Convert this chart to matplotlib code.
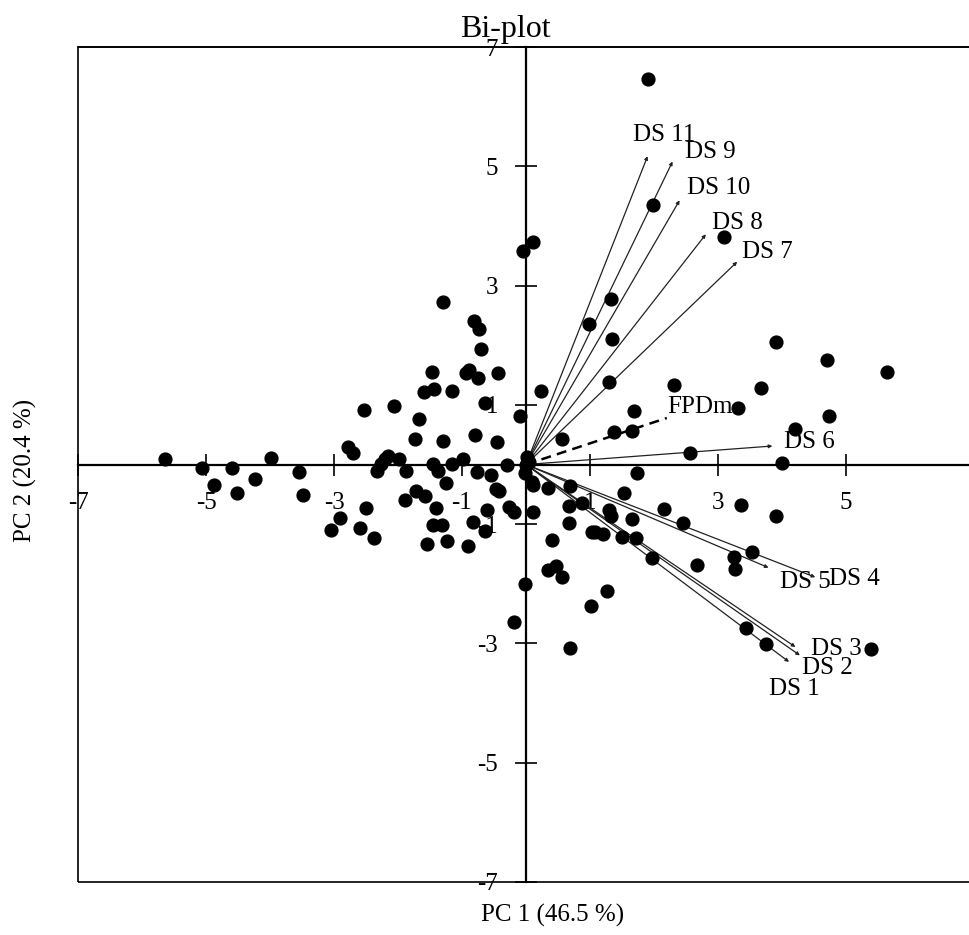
import numpy as np
import matplotlib
matplotlib.use('Agg')
import matplotlib.pyplot as plt
from matplotlib.patches import Rectangle

##------------data-----------------##

# PC scores of the genotypes
pc1 = [-1.30, -0.82, -0.73, -0.71, -1.47, -0.89, -0.93, -0.75, -0.44, -1.60,
       -1.44, -1.15, -2.53, -2.07, -0.64, -0.09, -1.67, -1.74, -1.30, -0.79,
       -0.46, -2.78, -2.71, -5.64, -3.98, -2.15, -2.21, -2.27, -2.33, -1.98,
       -0.99, -1.45, -1.16, -0.30,
       -5.07, -4.60, -4.87, -4.52, -4.23, -3.54, -3.49, -1.88, -1.37, -0.77,
       -0.55, -0.02, -1.25, -0.47, -0.42, -1.89, -1.72, -1.58, -1.41, -2.50,
       -2.90, -3.04, -2.60, -2.37, -1.45, -1.31, -1.54, -1.23, -0.90, -0.83,
       -0.61, -0.64, -0.27, -0.19, -0.01, -0.19,
       0.10, 0.11, 0.35, 0.69, 1.74, 1.53, 0.87, 0.67, 0.11, 1.30,
       1.33, 1.66, 2.16, 2.45, 3.36, 3.90, 0.67, 1.03, 1.08, 1.21,
       1.50, 1.72, 0.40, 1.97, 2.67, 3.25, 3.27, 3.53, 0.35, 0.47,
       0.57, 1.26, 1.02, 0.68, 3.44, 3.75, 5.39, 4.00,
       1.90, 1.99, 3.10, -0.04, 0.11, 1.33, 0.99, 1.35, 3.90, 4.70,
       5.64, 3.67, 2.32, 1.30, 0.24, 3.31, 4.74, 1.68, 4.21, 1.38,
       1.66, 0.56, 2.56,
       0.02, 0.05, 0.00]
pc2 = [2.72, 2.41, 2.27, 1.93, 1.55, 1.59, 1.53, 1.45, 1.53, 1.21,
       1.27, 1.24, 0.91, 0.98, 1.03, 0.81, 0.76, 0.43, 0.40, 0.50,
       0.38, 0.29, 0.20, 0.10, 0.11, 0.15, 0.10, 0.01, -0.11, 0.10,
       0.10, 0.01, 0.01, 0.00,
       -0.06, -0.06, -0.34, -0.48, -0.25, -0.13, -0.51, -0.11, -0.11, -0.13,
       -0.17, -0.14, -0.31, -0.41, -0.45, -0.60, -0.45, -0.53, -0.73, -0.73,
       -0.89, -1.09, -1.07, -1.24, -1.01, -1.01, -1.33, -1.28, -1.36, -0.96,
       -0.77, -1.12, -0.72, -0.80, -2.00, -2.64,
       -0.30, -0.35, -0.40, -0.36, -0.14, -0.48, -0.64, -0.70, -0.79, -0.77,
       -0.87, -0.91, -0.74, -0.98, -0.68, -0.87, -0.98, -1.13, -1.13, -1.16,
       -1.21, -1.24, -1.26, -1.57, -1.69, -1.55, -1.76, -1.47, -1.77, -1.71,
       -1.88, -2.12, -2.37, -3.08, -2.74, -3.01, -3.10, 0.02,
       6.46, 4.35, 3.82, 3.58, 3.73, 2.77, 2.36, 2.10, 2.05, 1.75,
       1.55, 1.29, 1.34, 1.39, 1.24, 0.95, 0.82, 0.89, 0.60, 0.54,
       0.57, 0.43, 0.19,
       0.12, 0.05, 0.00]

# trait loadings (scaled)
traits = ['DS 11', 'DS 9', 'DS 10', 'DS 8', 'DS 7', 'DS 6',
          'DS 5', 'DS 4', 'DS 3', 'DS 2', 'DS 1']
load1 = [1.90, 2.29, 2.40, 2.81, 3.30, 3.85, 3.79, 4.52, 4.21, 4.28, 4.11]
load2 = [5.17, 5.08, 4.43, 3.86, 3.40, 0.31, -1.73, -1.89, -3.06, -3.20, -3.31]

fpdm = (2.20, 0.78)

ticks = [-7, -5, -3, -1, 1, 3, 5, 7]

# label offsets from arrow tip, in pixels
lab_off = [(-15, 21), (12, 10), (7, 12), (6, 11), (5, 10), (12, 4),
           (11, -14), (14, -2), (16, -2), (2, -13), (-20, -27)]

##------------figure-----------------##

plt.rcParams['font.family'] = ['Liberation Serif', 'DejaVu Serif']
fs = 18

fig = plt.figure(figsize=(9.69, 9.35), dpi=100)
ax = fig.add_axes([78/969, 53/935, 896/969, 835/935])
ax.set_xlim(-7, 7)
ax.set_ylim(-7, 7)

# crossing axes through the origin
ax.spines['left'].set_position('zero')
ax.spines['bottom'].set_position('zero')
for s in ['left', 'bottom']:
    ax.spines[s].set_linewidth(1.6)
for s in ['top', 'right']:
    ax.spines[s].set_linewidth(1.2)
ax.add_patch(Rectangle((0, 0), 1, 1, transform=ax.transAxes, fill=False,
                       lw=1.2, ec='black', clip_on=False, zorder=5))

ax.set_xticks(ticks)
ax.set_yticks(ticks)
ax.set_xticklabels([str(t) for t in ticks])
ax.set_yticklabels([str(t) for t in ticks])
ax.tick_params(direction='inout', length=16, width=1.2, pad=12, labelsize=fs)

# trait vectors
for i in range(len(traits)):
    ax.annotate('', xy=(load1[i], load2[i]), xytext=(0, 0),
                arrowprops=dict(arrowstyle='-|>', lw=0.9, color='#222222',
                                mutation_scale=5, shrinkA=0, shrinkB=0),
                zorder=2)
    ax.annotate(traits[i], xy=(load1[i], load2[i]), xytext=lab_off[i],
                textcoords='offset pixels', fontsize=fs, va='center', ha='left')

ax.plot([0, fpdm[0]], [0, fpdm[1]], color='black', lw=1.8, ls=(0, (4, 2.5)), zorder=2)
ax.annotate('FPDm', xy=fpdm, xytext=(0, 11), textcoords='offset pixels',
            fontsize=fs, va='center', ha='left')

# genotype scores
ax.scatter(pc1, pc2, s=85, color='black', zorder=3, clip_on=False)

fig.text(505/969, 1 - 30/935, 'Bi-plot', fontsize=23, ha='center', va='center')
fig.text(553/969, 20/935, 'PC 1 (46.5 %)', fontsize=fs, ha='center', va='center')
fig.text(25/969, 1 - 470/935, 'PC 2 (20.4 %)', fontsize=fs, ha='center',
         va='center', rotation=90)

plt.savefig('out.png', dpi=100)
